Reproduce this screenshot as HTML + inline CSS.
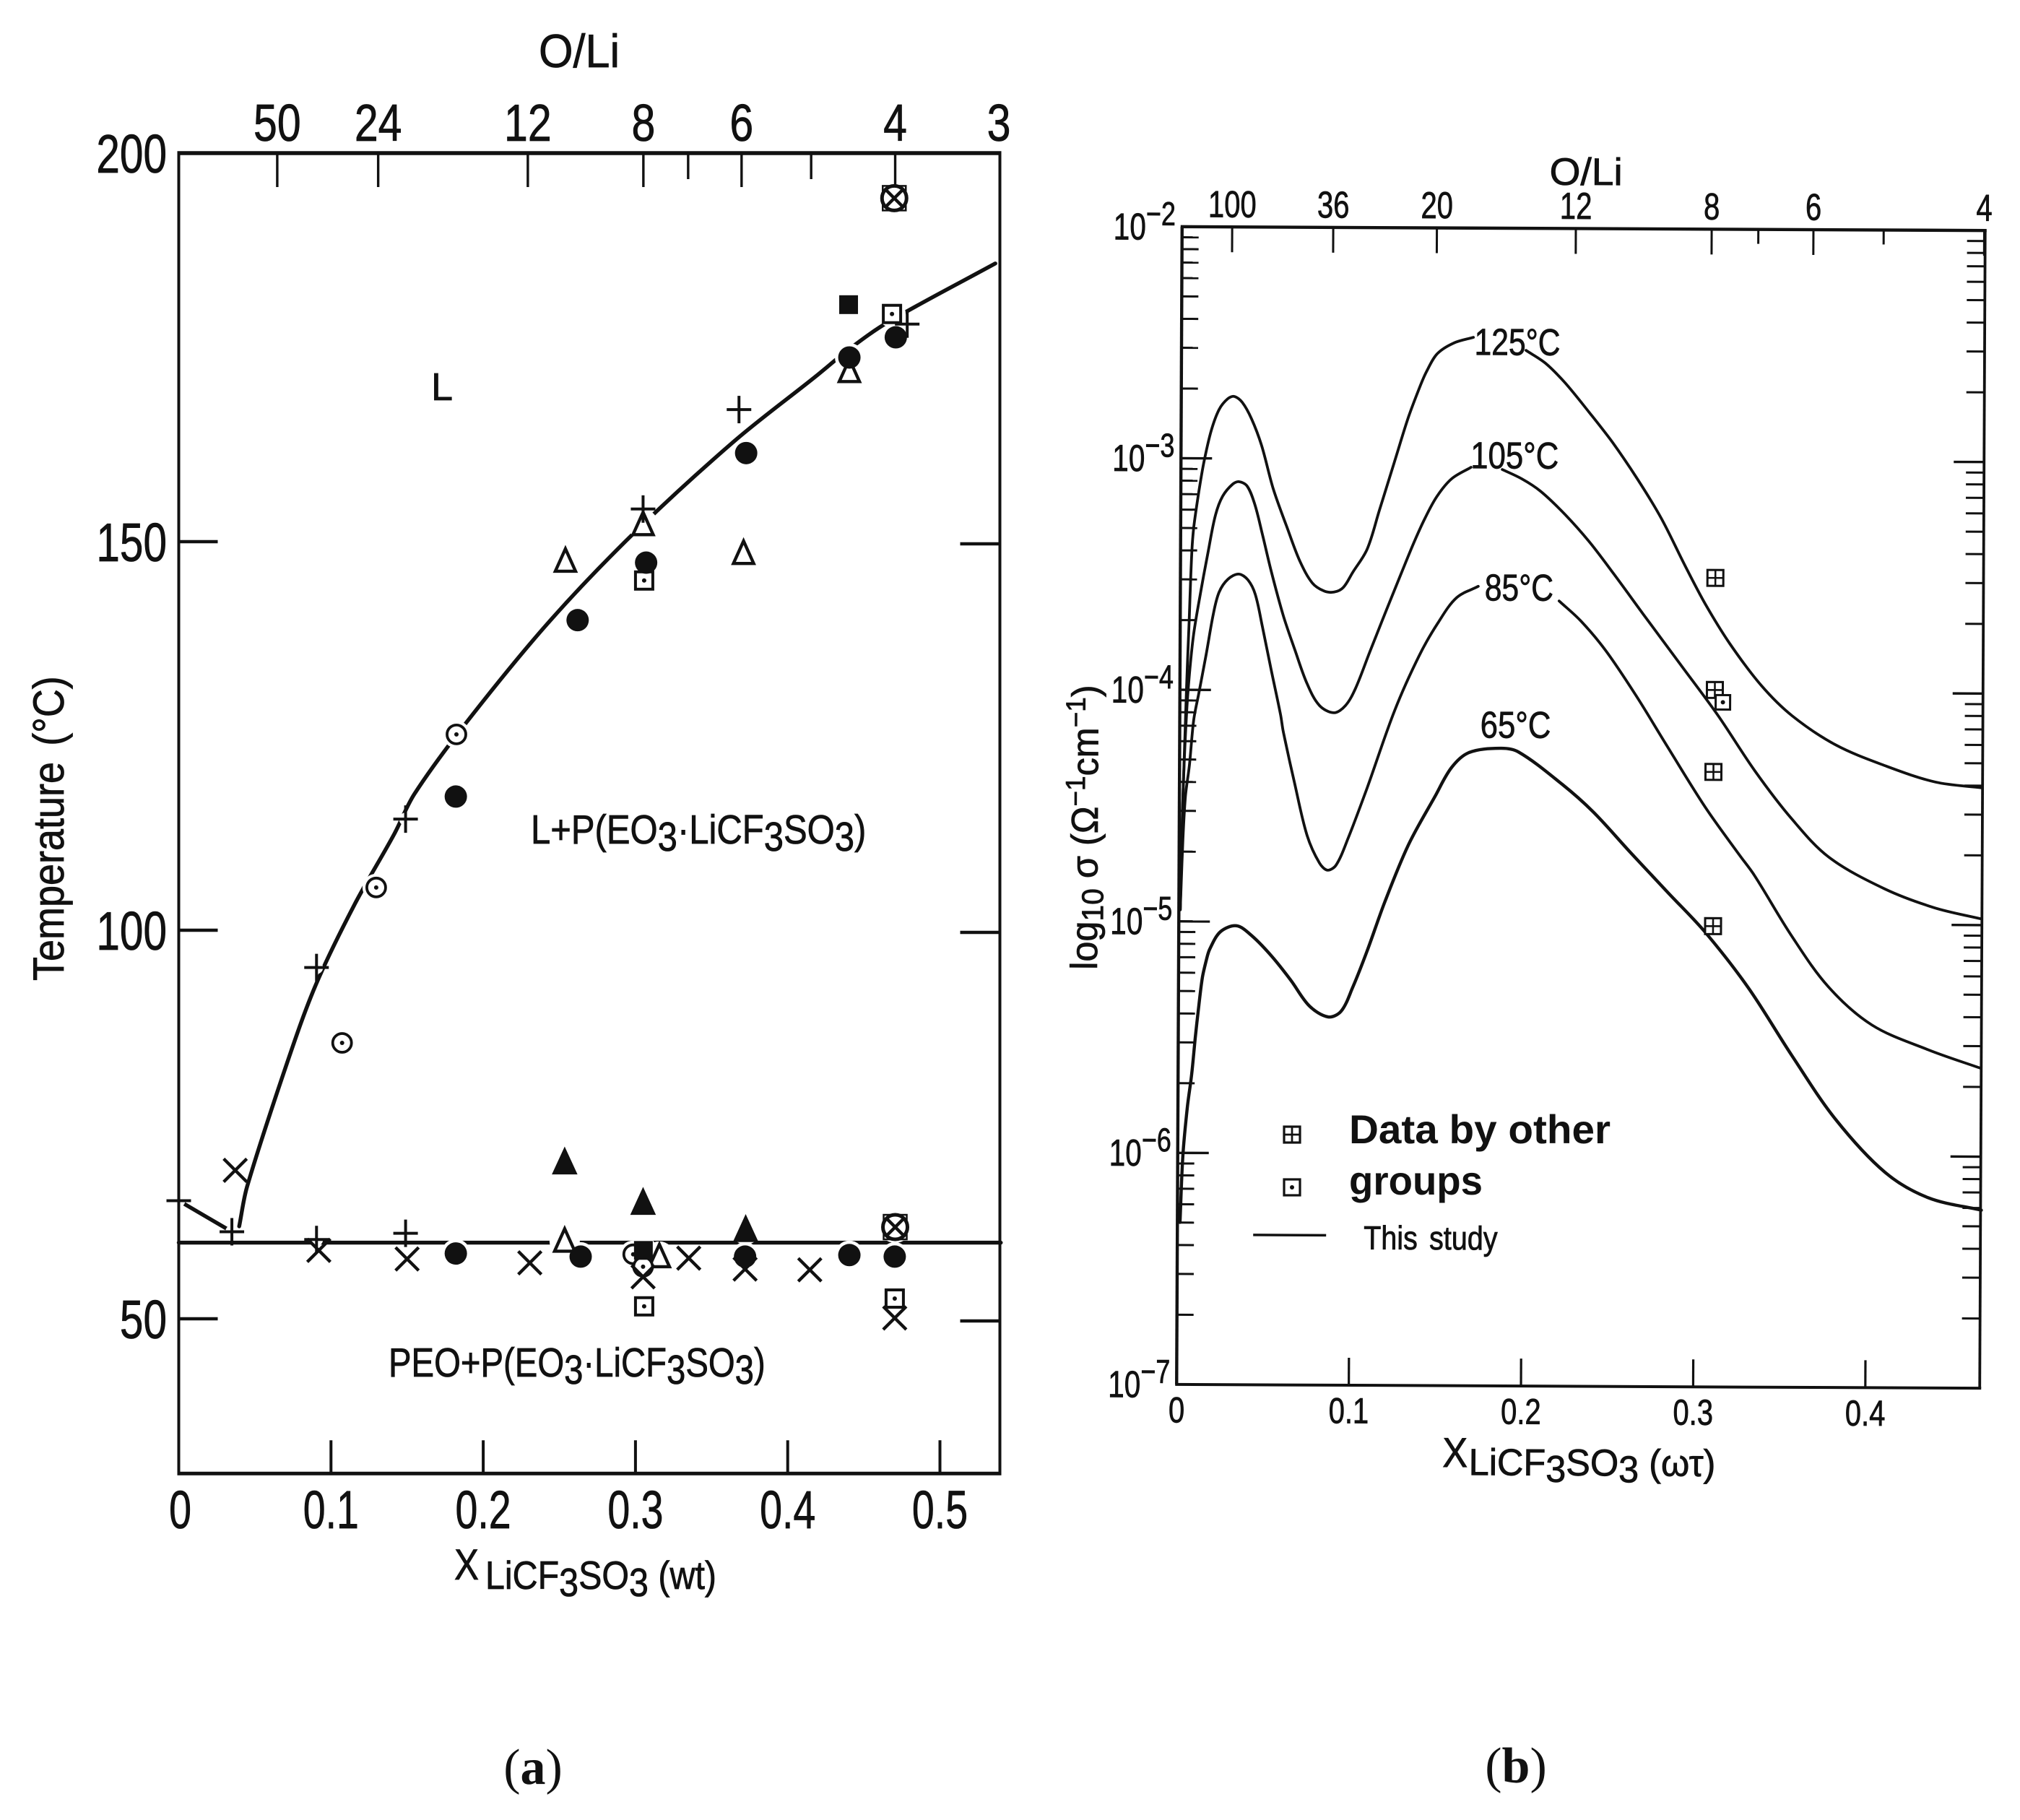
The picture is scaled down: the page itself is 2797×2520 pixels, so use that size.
<!DOCTYPE html>
<html lang="en">
<head>
<meta charset="utf-8">
<title>PEO LiCF3SO3 phase diagram and conductivity</title>
<style>
html,body{margin:0;padding:0;background:#fff;}
svg{display:block;}
text{font-family:"Liberation Sans",sans-serif;fill:#111;}
#panelA text,#panelB text{stroke:#111;stroke-width:.8px;}
#panelA text.serif{stroke:none;font-family:"Liberation Serif",serif;}
.serif{font-family:"Liberation Serif",serif;}
</style>
</head>
<body>
<svg id="figure" xmlns="http://www.w3.org/2000/svg" width="2797" height="2520" viewBox="0 0 2797 2520">
  <rect width="2797" height="2520" fill="#fff"/>

  <g id="panelA">
    <g id="aCurves"></g>
    <g id="aHalos"></g>
    <g id="aAxes"></g>
    <g id="aMarkers"></g>
    <text transform="translate(802,93) scale(.94,1)" font-size="65" text-anchor="middle">O/Li</text>
    <text transform="translate(88,1358) rotate(-90) scale(.9,1)" font-size="60" word-spacing="8">Temperature (°C)</text>
    <text transform="translate(646,2187) scale(.85,1)" font-size="60" text-anchor="middle">X</text>
    <text transform="translate(672,2200) scale(.88,1)" font-size="55">LiCF<tspan dy="10">3</tspan><tspan dy="-10">SO</tspan><tspan dy="10">3</tspan><tspan dy="-10"> (wt)</tspan></text>
    <text x="597" y="554" font-size="54">L</text>
    <text transform="translate(735,1168) scale(.86,1)" font-size="57">L+P(EO<tspan dy="10">3</tspan><tspan dy="-10">·LiCF</tspan><tspan dy="10">3</tspan><tspan dy="-10">SO</tspan><tspan dy="10">3</tspan><tspan dy="-10">)</tspan></text>
    <text transform="translate(538,1906) scale(.83,1)" font-size="57">PEO+P(EO<tspan dy="10">3</tspan><tspan dy="-10">·LiCF</tspan><tspan dy="10">3</tspan><tspan dy="-10">SO</tspan><tspan dy="10">3</tspan><tspan dy="-10">)</tspan></text>
    <text class="serif" x="738" y="2470" font-size="70" text-anchor="middle">(<tspan font-weight="bold">a</tspan>)</text>
  </g>

  <g id="panelB" transform="rotate(0.27 2189 1118)">
    <g id="bCurves"></g>
    <g id="bAxes"></g>
    <g id="bMarkers"></g>
    <text transform="translate(2192,256) scale(1.04,1)" font-size="53" text-anchor="middle">O/Li</text>
    <text transform="translate(1520,1346) rotate(-90) scale(.97,1)" font-size="52">log<tspan dy="8" font-size="42">10</tspan><tspan dy="-8"> σ (Ω</tspan><tspan dy="-18" font-size="38">−1</tspan><tspan dy="18">cm</tspan><tspan dy="-18" font-size="38">−1</tspan><tspan dy="18">)</tspan></text>
    <text transform="translate(2019,2032) scale(.9,1)" font-size="58" text-anchor="middle">X</text>
    <text transform="translate(2038,2043) scale(.97,1)" font-size="52">LiCF<tspan dy="9">3</tspan><tspan dy="-9">SO</tspan><tspan dy="9">3</tspan><tspan dy="-9"> (ωτ)</tspan></text>
    <text transform="translate(2098,492) scale(.82,1)" font-size="52" text-anchor="middle">125°C</text>
    <text transform="translate(2095,649) scale(.84,1)" font-size="52" text-anchor="middle">105°C</text>
    <text transform="translate(2102,832) scale(.82,1)" font-size="52" text-anchor="middle">85°C</text>
    <text transform="translate(2098,1022) scale(.84,1)" font-size="52" text-anchor="middle">65°C</text>
    <line x1="1738" y1="1712" x2="1839" y2="1712" stroke="#111" stroke-width="3.5"/>
    <text transform="translate(1891,1731) scale(.86,1)" font-size="46" word-spacing="6">This study</text>
  </g>

  <g id="bLegendMarkers"></g>
  <text x="1868" y="1583" font-size="56" font-weight="bold" textLength="362" lengthAdjust="spacingAndGlyphs">Data by other</text>
  <text x="1868" y="1654" font-size="56" font-weight="bold" textLength="185" lengthAdjust="spacingAndGlyphs">groups</text>
  <text class="serif" x="2099" y="2468" font-size="70" text-anchor="middle">(<tspan font-weight="bold">b</tspan>)</text>
</svg>

<script>
// ---------- Panel A data ----------
const aXTicks = [0, 0.1, 0.2, 0.3, 0.4, 0.5];
const aXTickLabels = ["0", "0.1", "0.2", "0.3", "0.4", "0.5"];
const aYTicks = [200, 150, 100, 50];
const aTopTicks = [0.0647, 0.131, 0.2293, 0.3052, 0.3346, 0.3697, 0.4154, 0.4706, 0.5387];
const aTopLabels = ["50", "24", "12", "8", "", "6", "", "4", "3"];

const liquidusX = [0.0397, 0.0449, 0.0713, 0.0901, 0.1152, 0.1416, 0.1547, 0.1876, 0.2424, 0.2995, 0.3653, 0.418, 0.4405, 0.4663, 0.5364];
const liquidusT = [61.9, 67, 83, 93, 103.2, 112.4, 117.5, 126.4, 139.5, 151.2, 163, 171.2, 174.8, 178.3, 185.8];
const solidusX = [0, 0.27, 0.54];
const solidusT = [59.8, 59.8, 59.8];
const peoBranchX = [0, 0.0349];
const peoBranchT = [65.2, 61.2];

const plusX = [0, 0.0349, 0.0905, 0.0905, 0.149, 0.149, 0.305, 0.368, 0.4785];
const plusT = [65.2, 61.2, 95.2, 60.2, 114.3, 61, 154.2, 167, 178];
const crossX = [0.0371, 0.092, 0.15, 0.2306, 0.305, 0.335, 0.372, 0.4145, 0.4703];
const crossT = [69.1, 58.8, 57.7, 57.2, 55.4, 57.8, 56.4, 56.3, 50.1];
const filledCircleX = [0.182, 0.182, 0.262, 0.264, 0.307, 0.372, 0.3727, 0.4405, 0.4405, 0.471, 0.4703];
const filledCircleT = [117.2, 58.4, 139.9, 58, 147.3, 58, 161.4, 173.7, 58.2, 176.3, 58];
const openTriangleX = [0.254, 0.2535, 0.305, 0.3157, 0.371, 0.4405];
const openTriangleT = [147.5, 60, 152.2, 58, 148.5, 171.9];
const filledTriangleX = [0.2535, 0.305, 0.3724];
const filledTriangleT = [70.2, 65, 61.5];
const filledSquareX = [0.44, 0.3052];
const filledSquareT = [180.5, 58.8];
const dotSquareX = [0.4685, 0.3057, 0.3057, 0.4703];
const dotSquareT = [179.3, 145, 51.6, 52.6];
const dotCircleX = [0.1824, 0.1297, 0.1073, 0.2985, 0.305];
const dotCircleT = [125.2, 105.5, 85.5, 58.3, 56.7];
const crossCircleX = [0.47, 0.4706];
const crossCircleT = [194.2, 61.8];

// ---------- Panel B data ----------
const bXTicks = [0, 0.1, 0.2, 0.3, 0.4];
const bXTickLabels = ["0", "0.1", "0.2", "0.3", "0.4"];
const bDecades = [-2, -3, -4, -5, -6, -7];
const bTopTicks = [0.0291, 0.0878, 0.148, 0.2287, 0.3076, 0.3347, 0.3667, 0.4075, 0.4659];
const bTopLabels = ["100", "36", "20", "12", "8", "", "6", "", "4"];

const curve125X = [0.0008, 0.0021, 0.0038, 0.0052, 0.0065, 0.0076, 0.0105, 0.0133, 0.0174, 0.022, 0.027, 0.0308, 0.0354, 0.0409, 0.0468, 0.0537, 0.0622, 0.0694, 0.0766, 0.0833, 0.0892, 0.0946, 0.1, 0.1083, 0.1154, 0.124, 0.1319, 0.1389, 0.1423, 0.1485, 0.1581, 0.1695, null, 0.2001, 0.2114, 0.2228, 0.2367, 0.2507, 0.2651, 0.279, 0.293, 0.305, 0.3193, 0.3377, 0.3557, 0.3811, 0.41, 0.439, 0.466];
const curve125Log = [-4.95, -4.45, -4.0, -3.7, -3.413, -3.298, -3.142, -3.017, -2.882, -2.789, -2.742, -2.732, -2.757, -2.829, -2.944, -3.131, -3.305, -3.443, -3.536, -3.57, -3.575, -3.555, -3.49, -3.39, -3.22, -3.011, -2.82, -2.68, -2.622, -2.544, -2.497, -2.472, null, -2.527, -2.582, -2.666, -2.791, -2.924, -3.08, -3.248, -3.453, -3.62, -3.79, -3.97, -4.1, -4.225, -4.314, -4.383, -4.407];
const curve105X = [0.0008, 0.0021, 0.0038, 0.0055, 0.0079, 0.012, 0.0161, 0.0202, 0.0243, 0.0302, 0.0339, 0.0385, 0.0428, 0.0475, 0.0526, 0.0599, 0.0667, 0.0739, 0.0811, 0.0895, 0.0962, 0.102, 0.1103, 0.1198, 0.1281, 0.1352, 0.1418, 0.1489, 0.1573, 0.1685, null, 0.1866, 0.198, 0.2089, 0.2232, 0.2371, 0.2511, 0.2688, 0.2906, 0.3125, 0.3343, 0.3557, 0.3774, 0.41, 0.4388, 0.4658];
const curve105Log = [-4.95, -4.45, -4.12, -3.931, -3.756, -3.569, -3.4, -3.244, -3.163, -3.11, -3.1, -3.119, -3.193, -3.327, -3.483, -3.679, -3.826, -3.972, -4.065, -4.096, -4.065, -3.99, -3.83, -3.65, -3.495, -3.365, -3.255, -3.158, -3.083, -3.033, null, -3.042, -3.082, -3.135, -3.235, -3.35, -3.485, -3.663, -3.88, -4.099, -4.34, -4.545, -4.71, -4.846, -4.926, -4.973];
const curve85X = [0.0008, 0.0022, 0.0035, 0.0057, 0.0081, 0.011, 0.0151, 0.0192, 0.0225, 0.0275, 0.0338, 0.0392, 0.0435, 0.0477, 0.0529, 0.0585, 0.0602, 0.0671, 0.0743, 0.0815, 0.0862, 0.0912, 0.0982, 0.109, 0.1248, 0.139, 0.1497, 0.1604, 0.173, null, 0.22, 0.2326, 0.2472, 0.2654, 0.2836, 0.3055, 0.3252, 0.3342, 0.3559, 0.3775, 0.4029, 0.4354, 0.466];
const curve85Log = [-4.95, -4.64, -4.461, -4.327, -4.13, -4.015, -3.849, -3.672, -3.578, -3.522, -3.499, -3.524, -3.586, -3.724, -3.91, -4.105, -4.18, -4.409, -4.627, -4.745, -4.776, -4.754, -4.636, -4.42, -4.085, -3.846, -3.706, -3.597, -3.547, null, -3.609, -3.694, -3.822, -4.021, -4.239, -4.497, -4.7, -4.79, -5.05, -5.27, -5.434, -5.539, -5.618];
const curve65X = [0.0015, 0.003, 0.0055, 0.0079, 0.0099, 0.0119, 0.0139, 0.016, 0.018, 0.0242, 0.0335, 0.0423, 0.0537, 0.0651, 0.0761, 0.087, 0.0945, 0.1012, 0.1094, 0.1194, 0.1331, 0.1484, 0.158, 0.1681, 0.1861, 0.1969, 0.2222, 0.2404, 0.2621, 0.2839, 0.3057, 0.331, 0.3565, 0.3818, 0.4109, 0.4362, 0.4669];
const curve65Log = [-6.3, -6.01, -5.8, -5.66, -5.5, -5.36, -5.24, -5.17, -5.12, -5.044, -5.018, -5.06, -5.146, -5.251, -5.363, -5.41, -5.385, -5.281, -5.125, -4.916, -4.666, -4.456, -4.33, -4.265, -4.246, -4.262, -4.4, -4.519, -4.693, -4.865, -5.036, -5.276, -5.568, -5.84, -6.07, -6.179, -6.231];

const gridSquareX = [0.3107, 0.3107, 0.3101, 0.3103];
const gridSquareLog = [-3.506, -3.99, -4.344, -5.01];
const dotSquareBX = [0.3154];
const dotSquareBLog = [-4.043];

// ---------- Helpers ----------
const NS = "http://www.w3.org/2000/svg";
const INK = "#111";
function mk(parent, tag, name) {
  const el = document.createElementNS(NS, tag);
  
  
  parent.appendChild(el);
  return el;
}
function seg(parent, name, x1, y1, x2, y2, w) {
  const el = mk(parent, "line", name);
  el.setAttribute("x1", x1); el.setAttribute("y1", y1);
  el.setAttribute("x2", x2); el.setAttribute("y2", y2);
  el.setAttribute("stroke", INK); el.setAttribute("stroke-width", w);
  return el;
}
function label(parent, name, x, y, str, size, sx, anchor) {
  const el = mk(parent, "text", name);
  el.setAttribute("transform", "translate(" + x + "," + y + ") scale(" + sx + ",1)");
  el.setAttribute("font-size", size);
  el.setAttribute("text-anchor", anchor);
  el.textContent = str;
  return el;
}
function dist(a, b) { return Math.hypot(a[0] - b[0], a[1] - b[1]) || 1; }
function smoothPath(xs, ys, fx, fy) {
  let d = "", run = [];
  const flush = () => {
    for (let i = 0; i < run.length; i++) {
      if (i === 0) { d += "M" + run[0][0].toFixed(1) + " " + run[0][1].toFixed(1); continue; }
      const p0 = run[Math.max(i - 2, 0)], p1 = run[i - 1], p2 = run[i], p3 = run[Math.min(i + 1, run.length - 1)];
      const l = dist(p1, p2);
      const s1 = l / 3 / (dist(p0, p1) + l), s2 = l / 3 / (dist(p2, p3) + l);
      d += "C" + (p1[0] + (p2[0] - p0[0]) * s1).toFixed(1) + " " + (p1[1] + (p2[1] - p0[1]) * s1).toFixed(1) + " " +
           (p2[0] - (p3[0] - p1[0]) * s2).toFixed(1) + " " + (p2[1] - (p3[1] - p1[1]) * s2).toFixed(1) + " " +
           p2[0].toFixed(1) + " " + p2[1].toFixed(1);
    }
    run = [];
  };
  xs.forEach((x, i) => {
    if (x === null) { flush(); } else { run.push([fx(x), fy(ys[i])]); }
  });
  flush();
  return d;
}
function curve(parent, name, xs, ys, fx, fy, w) {
  const el = mk(parent, "path", name);
  el.setAttribute("d", smoothPath(xs, ys, fx, fy));
  el.setAttribute("fill", "none");
  el.setAttribute("stroke", INK);
  el.setAttribute("stroke-width", w);
  el.setAttribute("stroke-linecap", "round");
  return el;
}

// Marker drawers: all receive pixel centre computed by the axis functions.
function mPlus(p, x, y) {
  const g = mk(p, "g", "plus-marker");
  seg(g, "plus-bar", x - 17, y, x + 17, y, 4);
  seg(g, "plus-stem", x, y - 19, x, y + 19, 4);
}
function mCross(p, x, y) {
  const g = mk(p, "g", "cross-marker");
  seg(g, "cross-stroke", x - 16, y - 16, x + 16, y + 16, 4.4);
  seg(g, "cross-stroke", x - 16, y + 16, x + 16, y - 16, 4.4);
}
function mFilledCircle(p, x, y) {
  const c = mk(p, "circle", "filled-circle-marker");
  c.setAttribute("cx", x); c.setAttribute("cy", y); c.setAttribute("r", 15.5); c.setAttribute("fill", INK);
}
function mTriangle(p, x, y, filled) {
  const t = mk(p, "polygon", filled ? "filled-triangle-marker" : "open-triangle-marker");
  const r = filled ? 17 : 14;
  t.setAttribute("points", (x - r) + "," + (y + r) + " " + (x + r) + "," + (y + r) + " " + x + "," + (y - r - 3));
  t.setAttribute("fill", filled ? INK : "#fff");
  t.setAttribute("stroke", INK);
  t.setAttribute("stroke-width", filled ? 1 : 4.4);
  t.setAttribute("stroke-linejoin", "miter");
}
function mFilledSquare(p, x, y) {
  const r = mk(p, "rect", "filled-square-marker");
  r.setAttribute("x", x - 13); r.setAttribute("y", y - 13);
  r.setAttribute("width", 26); r.setAttribute("height", 26); r.setAttribute("fill", INK);
}
function mDotSquare(p, x, y, half, w) {
  const g = mk(p, "g", "dotted-square-marker");
  const r = mk(g, "rect", "square-outline");
  r.setAttribute("x", x - half); r.setAttribute("y", y - half);
  r.setAttribute("width", half * 2); r.setAttribute("height", half * 2);
  r.setAttribute("fill", "#fff"); r.setAttribute("stroke", INK); r.setAttribute("stroke-width", w);
  const c = mk(g, "circle", "square-dot");
  c.setAttribute("cx", x); c.setAttribute("cy", y); c.setAttribute("r", 3); c.setAttribute("fill", INK);
}
function mDotCircle(p, x, y) {
  const g = mk(p, "g", "dotted-circle-marker");
  const r = mk(g, "circle", "circle-outline");
  r.setAttribute("cx", x); r.setAttribute("cy", y); r.setAttribute("r", 13);
  r.setAttribute("fill", "#fff"); r.setAttribute("stroke", INK); r.setAttribute("stroke-width", 3.8);
  const c = mk(g, "circle", "circle-dot");
  c.setAttribute("cx", x); c.setAttribute("cy", y); c.setAttribute("r", 3); c.setAttribute("fill", INK);
}
function mCrossCircle(p, x, y) {
  const g = mk(p, "g", "crossed-circle-marker");
  const r = mk(g, "rect", "square-outline");
  r.setAttribute("x", x - 16); r.setAttribute("y", y - 17);
  r.setAttribute("width", 32); r.setAttribute("height", 34);
  r.setAttribute("fill", "#fff"); r.setAttribute("stroke", INK); r.setAttribute("stroke-width", 2.5);
  const c = mk(g, "circle", "circle-outline");
  c.setAttribute("cx", x); c.setAttribute("cy", y); c.setAttribute("r", 17);
  c.setAttribute("fill", "none"); c.setAttribute("stroke", INK); c.setAttribute("stroke-width", 5);
  seg(g, "cross-stroke", x - 12, y - 12, x + 12, y + 12, 4.5);
  seg(g, "cross-stroke", x - 12, y + 12, x + 12, y - 12, 4.5);
}
function mGridSquare(p, x, y, half, w) {
  const g = mk(p, "g", "grid-square-marker");
  const r = mk(g, "rect", "square-outline");
  r.setAttribute("x", x - half); r.setAttribute("y", y - half);
  r.setAttribute("width", half * 2); r.setAttribute("height", half * 2);
  r.setAttribute("fill", "#fff"); r.setAttribute("stroke", INK); r.setAttribute("stroke-width", w);
  seg(g, "square-bar", x - half, y, x + half, y, w * 0.85);
  seg(g, "square-stem", x, y - half, x, y + half, w * 0.85);
}

// ---------- Panel A ----------
const ax = v => 247.5 + 2108 * v;
const ay = v => 1826 - (v - 50) * 10.76;
const aLeft = 247.5, aRight = 1384.5, aTop = ay(200), aBottom = ay(30);

const aCurves = document.getElementById("aCurves");
curve(aCurves, "liquidus-curve", liquidusX, liquidusT, ax, ay, 5.4);
curve(aCurves, "solidus-line", solidusX, solidusT, ax, ay, 5.4);
curve(aCurves, "peo-liquidus-branch", peoBranchX, peoBranchT, ax, ay, 5.4);

const aHalos = document.getElementById("aHalos");
[[plusX, plusT, 9], [crossX, crossT, 8], [filledCircleX, filledCircleT, 20], [openTriangleX, openTriangleT, 21],
 [filledTriangleX, filledTriangleT, 21], [filledSquareX, filledSquareT, 19], [dotSquareX, dotSquareT, 19],
 [dotCircleX, dotCircleT, 19], [crossCircleX, crossCircleT, 22]].forEach(group => {
  group[0].forEach((x, i) => {
    const c = mk(aHalos, "circle", "marker-halo");
    c.setAttribute("cx", ax(x)); c.setAttribute("cy", ay(group[1][i]));
    c.setAttribute("r", group[2]); c.setAttribute("fill", "#fff");
  });
});

const aAxes = document.getElementById("aAxes");
seg(aAxes, "top-axis-line", aLeft - 2, aTop, aRight + 2, aTop, 5.6);
seg(aAxes, "bottom-axis-line", aLeft - 2, aBottom - 1, aRight + 2, aBottom - 1, 5);
seg(aAxes, "left-axis-line", aLeft, aTop, aLeft, aBottom, 4);
seg(aAxes, "right-axis-line", aRight, aTop, aRight, aBottom, 4);
aXTicks.forEach((v, i) => {
  if (v > 0) seg(aAxes, "x-tick", ax(v), aBottom - 47, ax(v), aBottom, 4);
  label(aAxes, "x-tick-label", ax(v) + (v === 0 ? 2 : 0), 2116, aXTickLabels[i], 74, 0.75, "middle");
});
aYTicks.forEach(v => {
  if (v !== 200) {
    seg(aAxes, "y-tick-left", aLeft, ay(v), aLeft + 54, ay(v), 4.4);
    seg(aAxes, "y-tick-right", aRight - 55, ay(v) + 3, aRight, ay(v) + 3, 4.4);
  }
  label(aAxes, "y-tick-label", 231, ay(v) + 27, String(v), 75, 0.78, "end");
});
aTopTicks.forEach((v, i) => {
  const len = aTopLabels[i] === "" ? 36 : 47;
  if (aTopLabels[i] !== "3") seg(aAxes, "top-tick", ax(v), aTop, ax(v), aTop + len, 3.4);
  if (aTopLabels[i] !== "") label(aAxes, "top-tick-label", ax(v), 195, aTopLabels[i], 72, 0.82, "middle");
});

const aMarkers = document.getElementById("aMarkers");
openTriangleX.forEach((x, i) => mTriangle(aMarkers, ax(x), ay(openTriangleT[i]), false));
dotCircleX.forEach((x, i) => mDotCircle(aMarkers, ax(x), ay(dotCircleT[i])));
dotSquareX.forEach((x, i) => mDotSquare(aMarkers, ax(x), ay(dotSquareT[i]), 12, 4));
plusX.forEach((x, i) => mPlus(aMarkers, ax(x), ay(plusT[i])));
crossX.forEach((x, i) => mCross(aMarkers, ax(x), ay(crossT[i])));
filledCircleX.forEach((x, i) => mFilledCircle(aMarkers, ax(x), ay(filledCircleT[i])));
filledTriangleX.forEach((x, i) => mTriangle(aMarkers, ax(x), ay(filledTriangleT[i]), true));
filledSquareX.forEach((x, i) => mFilledSquare(aMarkers, ax(x), ay(filledSquareT[i])));
crossCircleX.forEach((x, i) => mCrossCircle(aMarkers, ax(x), ay(crossCircleT[i])));

// ---------- Panel B ----------
const bx = v => 1633 + 2384 * v;
const by = v => 316.5 + (-2 - v) * 320.6;
const bLeft = 1633, bRight = 2745, bTop = by(-2), bBottom = by(-7);

const bCurves = document.getElementById("bCurves");
curve(bCurves, "curve-125c", curve125X, curve125Log, bx, by, 3.8);
curve(bCurves, "curve-105c", curve105X, curve105Log, bx, by, 3.8);
curve(bCurves, "curve-85c", curve85X, curve85Log, bx, by, 3.8);
curve(bCurves, "curve-65c", curve65X, curve65Log, bx, by, 4.4);

const bAxes = document.getElementById("bAxes");
seg(bAxes, "top-axis-line", bLeft - 2, bTop, bRight + 2, bTop, 4.4);
seg(bAxes, "bottom-axis-line", bLeft - 2, bBottom, bRight + 2, bBottom, 4);
seg(bAxes, "left-axis-line", bLeft, bTop, bLeft, bBottom, 4.4);
seg(bAxes, "right-axis-line", bRight, bTop, bRight, bBottom, 3.8);
bXTicks.forEach((v, i) => {
  if (v > 0) seg(bAxes, "x-tick", bx(v), bBottom - 38, bx(v), bBottom, 3.2);
  label(bAxes, "x-tick-label", bx(v), 1972, bXTickLabels[i], 50, 0.8, "middle");
});
bDecades.forEach(d => {
  if (d !== -2 && d !== -7) {
    seg(bAxes, "y-major-tick-left", bLeft, by(d), bLeft + 43, by(d), 3.4);
    seg(bAxes, "y-major-tick-right", bRight - 42, by(d), bRight, by(d), 3.4);
  }
  if (d !== -2) {
    [2, 3, 4, 5, 6, 7, 8, 9].forEach(m => {
      const y = by(d + Math.log10(m));
      seg(bAxes, "y-minor-tick-left", bLeft, y, bLeft + 23, y, 3);
      seg(bAxes, "y-minor-tick-right", bRight - 25, y, bRight, y, 3);
    });
  }
  const t = label(bAxes, "y-tick-label", 1624, by(d) + 18, "", 52, 0.78, "end");
  const base = mk(t, "tspan", "y-tick-base");
  base.textContent = "10";
  const exp = mk(t, "tspan", "y-tick-exponent");
  exp.setAttribute("dy", "-20");
  exp.setAttribute("font-size", "46");
  exp.textContent = "−" + Math.abs(d);
});
bTopTicks.forEach((v, i) => {
  const len = bTopLabels[i] === "" ? 20 : 35;
  seg(bAxes, "top-tick", bx(v), bTop, bx(v), bTop + len, 3);
  if (bTopLabels[i] !== "") label(bAxes, "top-tick-label", bx(v), 303, bTopLabels[i], 52, 0.77, "middle");
});

const bMarkers = document.getElementById("bMarkers");
gridSquareX.forEach((x, i) => mGridSquare(bMarkers, bx(x), by(gridSquareLog[i]), 11, 3));
dotSquareBX.forEach((x, i) => mDotSquare(bMarkers, bx(x), by(dotSquareBLog[i]), 10, 3));

const legend = document.getElementById("bLegendMarkers");
mGridSquare(legend, 1789, 1571, 11, 3.2);
mDotSquare(legend, 1789, 1644, 11, 3.2);
</script>
</body>
</html>
